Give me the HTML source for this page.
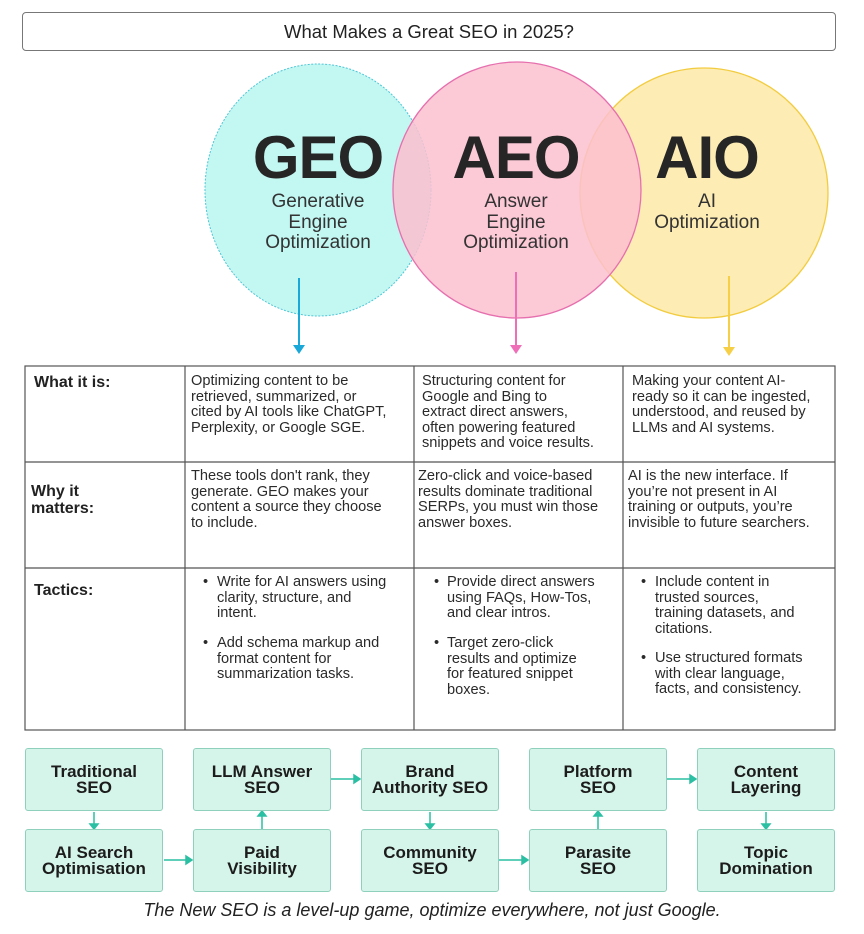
<!DOCTYPE html>
<html><head><meta charset="utf-8"><style>
body{margin:0;width:864px;height:934px;background:#fff;position:relative;overflow:hidden;font-family:"Liberation Sans",sans-serif;color:#222}
.a{position:absolute;white-space:nowrap}
.t{font-size:14.6px;line-height:15.5px;color:#2a2a2a}
.lab{font-size:16px;font-weight:bold;line-height:17px}
.big{font-size:60px;font-weight:bold;letter-spacing:-1px;text-align:center;color:#262626}
.sub{font-size:19px;line-height:20.5px;text-align:center;color:#333}
.box{position:absolute;width:138px;height:63px;background:#d6f5ea;border:1px solid #8fd0bd;border-radius:3px;display:flex;align-items:center;justify-content:center;text-align:center;font-weight:bold;font-size:17px;line-height:16px;color:#1c1c1c;box-sizing:border-box}
</style></head><body>
<div class="a" style="left:22px;top:12px;width:812px;height:37px;border:1px solid #777;border-radius:4px;text-align:center;line-height:37px;font-size:18.5px;color:#222">What Makes a Great SEO in 2025?</div>
<svg class="a" style="left:0;top:0" width="864" height="934">
<ellipse cx="318" cy="190" rx="113" ry="126" fill="#c2f7f2" stroke="#4fc6d6" stroke-width="1" stroke-dasharray="2,1.5"/>
<ellipse cx="704" cy="193" rx="124" ry="125" fill="#fde9a6" fill-opacity="0.85" stroke="#f2cc40" stroke-width="1.3"/>
<ellipse cx="517" cy="190" rx="124" ry="128" fill="#fbbfcf" fill-opacity="0.85" stroke="#e66fae" stroke-width="1.3"/>
<line x1="299" y1="278" x2="299" y2="346" stroke="#1aa8d8" stroke-width="2"/><polygon points="293,345 305,345 299,354" fill="#1aa8d8"/>
<line x1="516" y1="272" x2="516" y2="346" stroke="#ee6fb8" stroke-width="2"/><polygon points="510,345 522,345 516,354" fill="#ee6fb8"/>
<line x1="729" y1="276" x2="729" y2="348" stroke="#f6cf46" stroke-width="2"/><polygon points="723,347 735,347 729,356" fill="#f6cf46"/>
<g stroke="#555" stroke-width="1.2" fill="none">
<rect x="25" y="366" width="810" height="364"/>
<line x1="185" y1="366" x2="185" y2="730"/><line x1="414" y1="366" x2="414" y2="730"/><line x1="623" y1="366" x2="623" y2="730"/>
<line x1="25" y1="462" x2="835" y2="462"/><line x1="25" y1="568" x2="835" y2="568"/>
</g>
<g stroke="#2bbfa3" stroke-width="1.5" fill="#2bbfa3">
<line x1="94" y1="812" x2="94" y2="826"/><polygon points="90,824 98,824 94,829"/>
<line x1="164" y1="860" x2="188" y2="860"/><polygon points="186,856 186,864 192,860"/>
<line x1="262" y1="829" x2="262" y2="815"/><polygon points="258,816 266,816 262,811"/>
<line x1="331" y1="779" x2="356" y2="779"/><polygon points="354,775 354,783 360,779"/>
<line x1="430" y1="812" x2="430" y2="826"/><polygon points="426,824 434,824 430,829"/>
<line x1="498" y1="860" x2="524" y2="860"/><polygon points="522,856 522,864 528,860"/>
<line x1="598" y1="829" x2="598" y2="815"/><polygon points="594,816 602,816 598,811"/>
<line x1="667" y1="779" x2="692" y2="779"/><polygon points="690,775 690,783 696,779"/>
<line x1="766" y1="812" x2="766" y2="826"/><polygon points="762,824 770,824 766,829"/>
</g>
</svg>
<div class="a big" style="left:218px;top:123px;width:200px">GEO</div>
<div class="a sub" style="left:218px;top:192px;width:200px">Generative<br>Engine<br>Optimization</div>
<div class="a big" style="left:416px;top:123px;width:200px">AEO</div>
<div class="a sub" style="left:416px;top:192px;width:200px">Answer<br>Engine<br>Optimization</div>
<div class="a big" style="left:607px;top:123px;width:200px">AIO</div>
<div class="a sub" style="left:607px;top:192px;width:200px">AI<br>Optimization</div>

<div class="a lab" style="left:34px;top:374px">What it is:</div>
<div class="a lab" style="left:31px;top:483px">Why it<br>matters:</div>
<div class="a lab" style="left:34px;top:582px">Tactics:</div>

<div class="a t" style="left:191px;top:374px">Optimizing content to be<br>retrieved, summarized, or<br>cited by AI tools like ChatGPT,<br>Perplexity, or Google SGE.</div>
<div class="a t" style="left:422px;top:374px">Structuring content for<br>Google and Bing to<br>extract direct answers,<br>often powering featured<br>snippets and voice results.</div>
<div class="a t" style="left:632px;top:374px">Making your content AI-<br>ready so it can be ingested,<br>understood, and reused by<br>LLMs and AI systems.</div>

<div class="a t" style="left:191px;top:469px">These tools don't rank,  they<br>generate. GEO makes your<br>content a source they choose<br>to include.</div>
<div class="a t" style="left:418px;top:469px">Zero-click and voice-based<br>results dominate traditional<br>SERPs, you must win those<br>answer boxes.</div>
<div class="a t" style="left:628px;top:469px">AI is the new interface. If<br>you’re not present in AI<br>training or outputs, you’re<br>invisible to future searchers.</div>

<div class="a t" style="left:203px;top:575px">•</div>
<div class="a t" style="left:217px;top:575px">Write for AI answers using<br>clarity, structure, and<br>intent.</div>
<div class="a t" style="left:203px;top:636px">•</div>
<div class="a t" style="left:217px;top:636px">Add schema markup and<br>format content for<br>summarization tasks.</div>

<div class="a t" style="left:434px;top:575px">•</div>
<div class="a t" style="left:447px;top:575px">Provide direct answers<br>using FAQs, How-Tos,<br>and clear intros.</div>
<div class="a t" style="left:434px;top:636px">•</div>
<div class="a t" style="left:447px;top:636px">Target zero-click<br>results and optimize<br>for featured snippet<br>boxes.</div>

<div class="a t" style="left:641px;top:575px">•</div>
<div class="a t" style="left:655px;top:575px">Include content in<br>trusted sources,<br>training datasets, and<br>citations.</div>
<div class="a t" style="left:641px;top:651px">•</div>
<div class="a t" style="left:655px;top:651px">Use structured formats<br>with clear language,<br>facts, and consistency.</div>

<div class="box" style="left:25px;top:748px">Traditional<br>SEO</div>
<div class="box" style="left:193px;top:748px">LLM Answer<br>SEO</div>
<div class="box" style="left:361px;top:748px">Brand<br>Authority SEO</div>
<div class="box" style="left:529px;top:748px">Platform<br>SEO</div>
<div class="box" style="left:697px;top:748px">Content<br>Layering</div>
<div class="box" style="left:25px;top:829px">AI Search<br>Optimisation</div>
<div class="box" style="left:193px;top:829px">Paid<br>Visibility</div>
<div class="box" style="left:361px;top:829px">Community<br>SEO</div>
<div class="box" style="left:529px;top:829px">Parasite<br>SEO</div>
<div class="box" style="left:697px;top:829px">Topic<br>Domination</div>

<div class="a" style="left:0;top:900px;width:864px;text-align:center;font-size:18px;font-style:italic;color:#222">The New SEO is a level-up game, optimize everywhere, not just Google.</div>
</body></html>
